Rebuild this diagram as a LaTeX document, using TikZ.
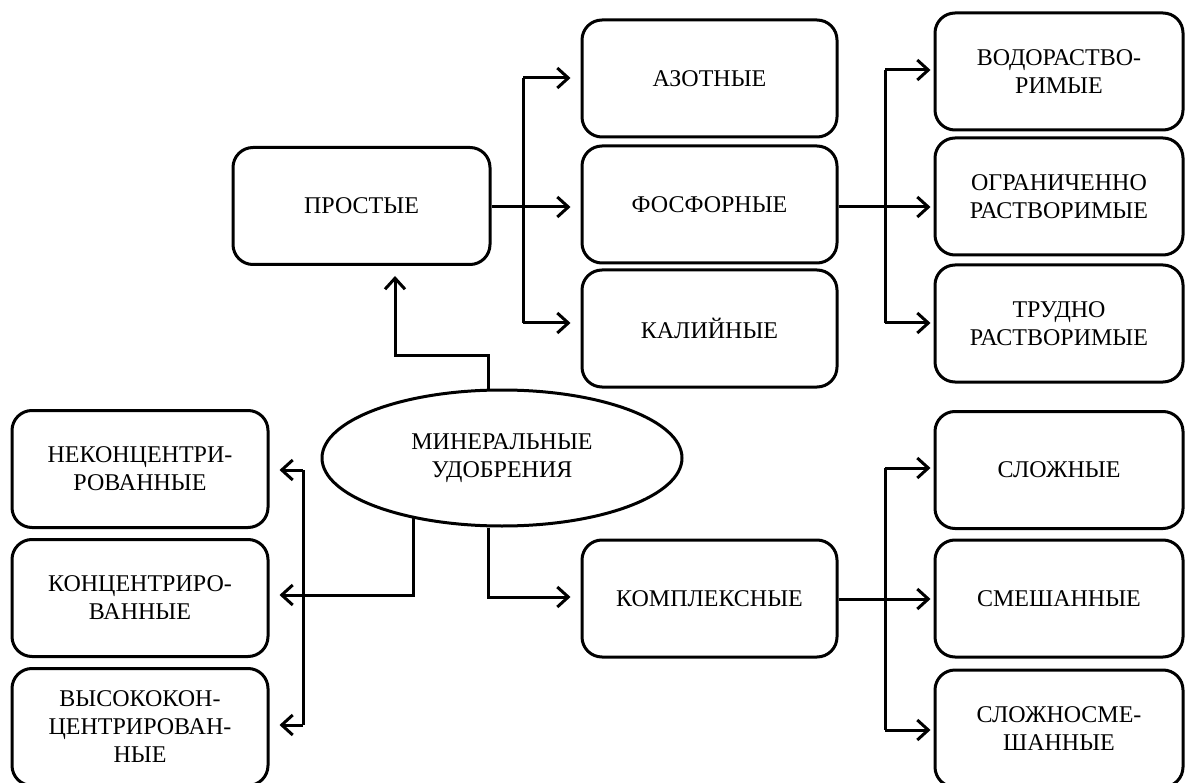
\documentclass[tikz,border=0pt]{standalone}
\usepackage{fontspec}
\setmainfont{Liberation Serif}
\usetikzlibrary{arrows.meta,shapes.geometric}
\begin{document}
\begin{tikzpicture}[x=1pt,y=-1pt,
  every node/.style={font=\fontsize{24}{28}\selectfont, align=center},
  box/.style={draw, line width=3pt, rounded corners=20pt, minimum height=117pt, inner sep=0pt},
  midbox/.style={box, minimum width=255pt},
  rbox/.style={box, minimum width=248pt},
  lbox/.style={box, minimum width=256pt},
  conn/.style={line width=3pt},
  arr/.style={conn, -{Straight Barb[length=11pt,width=20pt,line width=3pt]}},
  ]
\clip (0,0) rectangle (1185,783);
\fill[white] (0,0) rectangle (1185,783);
% nodes
\node[box, minimum width=257pt] (prost) at (361.5,206) {ПРОСТЫЕ};
\node[midbox] (azot) at (709.5,78.5) {АЗОТНЫЕ};
\node[midbox] (fosf) at (709.5,204.5) {ФОСФОРНЫЕ};
\node[midbox] (kali) at (709.5,328.5) {КАЛИЙНЫЕ};
\node[midbox] (komp) at (709.5,598.5) {КОМПЛЕКСНЫЕ};
\node[rbox] (vodo) at (1059,71.5) {ВОДОРАСТВО-\\РИМЫЕ};
\node[rbox] (ogr) at (1059,196.5) {ОГРАНИЧЕННО\\РАСТВОРИМЫЕ};
\node[rbox] (trud) at (1059,323.5) {ТРУДНО\\РАСТВОРИМЫЕ};
\node[rbox] (slozh) at (1059,470) {СЛОЖНЫЕ};
\node[rbox] (smesh) at (1059,598.5) {СМЕШАННЫЕ};
\node[rbox] (slsm) at (1059,728.5) {СЛОЖНОСМЕ-\\ШАННЫЕ};
\node[lbox] (nek) at (140,469) {НЕКОНЦЕНТРИ-\\РОВАННЫЕ};
\node[lbox] (kon) at (140,598) {КОНЦЕНТРИРО-\\ВАННЫЕ};
\node[lbox] (vys) at (140,727) {ВЫСОКОКОН-\\ЦЕНТРИРОВАН-\\НЫЕ};
\node[draw, ellipse, line width=3pt, minimum width=360pt, minimum height=136pt, inner sep=0pt] (ell) at (502,458) {МИНЕРАЛЬНЫЕ\\УДОБРЕНИЯ};
% up to ПРОСТЫЕ
\coordinate (upA) at (488,355);
\coordinate (upB) at (395,355);
\draw[arr, shorten >=10pt] (ell.north -| upA) -- (upA) -- (upB) -- (prost.south -| upB);
% ПРОСТЫЕ branch
\coordinate (pb1) at (523,78);
\coordinate (pb2) at (523,207);
\coordinate (pb3) at (523,323);
\draw[conn] (prost.east |- pb2) -- (pb2);
\draw[conn] (pb1) -- (pb3);
\draw[arr, shorten >=10pt] (pb1) -- (azot.west |- pb1);
\draw[arr, shorten >=10pt] (pb2) -- (fosf.west |- pb2);
\draw[arr, shorten >=10pt] (pb3) -- (kali.west |- pb3);
% ФОСФОРНЫЕ branch
\coordinate (fb1) at (885,70);
\coordinate (fb2) at (885,207);
\coordinate (fb3) at (885,323);
\draw[conn] (fosf.east |- fb2) -- (fb2);
\draw[conn] (fb1) -- (fb3);
\draw[arr, shorten >=3pt] (fb1) -- (vodo.west |- fb1);
\draw[arr, shorten >=3pt] (fb2) -- (ogr.west |- fb2);
\draw[arr, shorten >=3pt] (fb3) -- (trud.west |- fb3);
% down to КОМПЛЕКСНЫЕ
\coordinate (dn) at (488,597);
\draw[arr, shorten >=10pt] (dn |- ell.south) -- (dn) -- (komp.west |- dn);
% КОМПЛЕКСНЫЕ branch
\coordinate (kb1) at (885,468);
\coordinate (kb2) at (885,599);
\coordinate (kb3) at (885,730);
\draw[conn] (komp.east |- kb2) -- (kb2);
\draw[conn] (kb1) -- (kb3);
\draw[arr, shorten >=3pt] (kb1) -- (slozh.west |- kb1);
\draw[arr, shorten >=3pt] (kb2) -- (smesh.west |- kb2);
\draw[arr, shorten >=3pt] (kb3) -- (slsm.west |- kb3);
% left side
\coordinate (lc) at (413,595);
\coordinate (lb1) at (303,470);
\coordinate (lb3) at (303,725);
\draw[arr, shorten >=10pt] (lc |- ell.213.5) -- (lc) -- (kon.east |- lc);
\draw[conn] (lb1) -- (lb3);
\draw[arr, shorten >=10pt] (lb1) -- (nek.east |- lb1);
\draw[arr, shorten >=10pt] (lb3) -- (vys.east |- lb3);
\end{tikzpicture}
\end{document}
